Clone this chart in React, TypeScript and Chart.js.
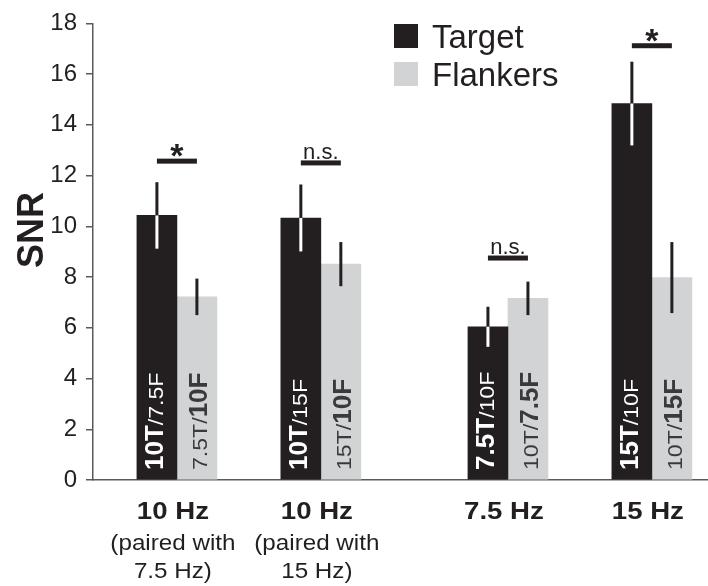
import React, { useEffect, useRef } from "react";
import { Chart, registerables } from "chart.js";

Chart.register(...registerables);

// ---------- data ----------
const seriesNames = ["Target", "Flankers"];
const groupPositions = [1, 2, 3.3, 4.3];
const groupLabels = ["10 Hz", "10 Hz", "7.5 Hz", "15 Hz"];
const groupSubLabels = [["(paired with", "7.5 Hz)"], ["(paired with", "15 Hz)"], [], []];
const targetValues = [10.43, 10.33, 6.04, 14.84];
const targetErrors = [1.31, 1.32, 0.79, 1.65];
const flankerValues = [7.22, 8.51, 7.16, 7.98];
const flankerErrors = [0.72, 0.87, 0.66, 1.4];
const targetBarLabels = ["10T/7.5F", "10T/15F", "7.5T/10F", "15T/10F"];
const flankerBarLabels = ["7.5T/10F", "15T/10F", "10T/7.5F", "10T/15F"];
const sigLabels = ["*", "n.s.", "n.s.", "*"];
const sigLevels = [12.57, 12.5, 8.75, 17.12];
const yMin = 0;
const yMax = 18;
const yStep = 2;

// ---------- styles ----------
const FONT = "'Liberation Sans', Arial, Helvetica, sans-serif";
const INK = "#231f20";
const AXIS = "#5a5a5c";
const BLACK = "#231f20";
const GRAY = "#d1d3d4";

function scaledText(ctx: CanvasRenderingContext2D, text: string, x: number, y: number, font: string, sx: number) {
  ctx.save();
  ctx.font = font;
  ctx.translate(x, y);
  ctx.scale(sx, 1);
  ctx.textAlign = "center";
  ctx.textBaseline = "alphabetic";
  ctx.fillText(text, 0, 0);
  ctx.restore();
}

function barText(
  ctx: CanvasRenderingContext2D,
  parts: { text: string; bold: boolean }[],
  x: number,
  bottom: number,
  color: string
) {
  ctx.save();
  ctx.translate(x, bottom);
  ctx.rotate(-Math.PI / 2);
  ctx.fillStyle = color;
  ctx.textAlign = "left";
  ctx.textBaseline = "alphabetic";
  let pos = 0;
  for (const p of parts) {
    const sx = p.bold ? 1 : 1.1;
    ctx.font = p.bold ? `bold 26px ${FONT}` : `21px ${FONT}`;
    ctx.save();
    ctx.translate(pos, 0);
    ctx.scale(sx, 1);
    ctx.fillText(p.text, 0, 0);
    ctx.restore();
    pos += ctx.measureText(p.text).width * sx;
  }
  ctx.restore();
}

const overlayPlugin = {
  id: "overlay",
  afterDatasetsDraw(chart: any) {
    const ctx: CanvasRenderingContext2D = chart.ctx;
    const ys = chart.scales.y;
    const xs = chart.scales.x;
    const metaT = chart.getDatasetMeta(0);
    const metaF = chart.getDatasetMeta(1);
    ctx.save();

    // in-bar labels
    targetBarLabels.forEach((lbl, i) => {
      const [a, b] = lbl.split("/");
      const bx = metaT.data[i].x;
      barText(ctx, [{ text: a, bold: true }, { text: "/" + b, bold: false }], bx + 6, ys.getPixelForValue(0) - 10, "#ffffff");
    });
    flankerBarLabels.forEach((lbl, i) => {
      const [a, b] = lbl.split("/");
      const bx = metaF.data[i].x;
      barText(ctx, [{ text: a + "/", bold: false }, { text: b, bold: true }], bx + 10, ys.getPixelForValue(0) - 10, "#3a3a3c");
    });

    // error bars
    ctx.lineWidth = 3;
    ctx.lineCap = "butt";
    targetValues.forEach((v, i) => {
      const bx = metaT.data[i].x;
      const top = ys.getPixelForValue(v + targetErrors[i]);
      const mid = ys.getPixelForValue(v);
      const bot = ys.getPixelForValue(v - targetErrors[i]);
      ctx.strokeStyle = BLACK;
      ctx.beginPath();
      ctx.moveTo(bx, top);
      ctx.lineTo(bx, mid);
      ctx.stroke();
      ctx.strokeStyle = "#ffffff";
      ctx.beginPath();
      ctx.moveTo(bx, mid);
      ctx.lineTo(bx, bot);
      ctx.stroke();
    });
    flankerValues.forEach((v, i) => {
      const bx = metaF.data[i].x;
      ctx.strokeStyle = BLACK;
      ctx.beginPath();
      ctx.moveTo(bx, ys.getPixelForValue(v + flankerErrors[i]));
      ctx.lineTo(bx, ys.getPixelForValue(v - flankerErrors[i]));
      ctx.stroke();
    });

    // significance markers
    sigLevels.forEach((lvl, i) => {
      const cx = xs.getPixelForValue(groupPositions[i]);
      const ly = ys.getPixelForValue(lvl);
      ctx.fillStyle = INK;
      ctx.fillRect(cx - 20, ly - 2.5, 40, 5);
      if (sigLabels[i] === "*") {
        scaledText(ctx, "*", cx, ly + 6, `bold 34px ${FONT}`, 1);
      } else {
        scaledText(ctx, sigLabels[i], cx, ly - 4, `22px ${FONT}`, 1);
      }
    });

    // x category labels
    groupLabels.forEach((lbl, i) => {
      const cx = xs.getPixelForValue(groupPositions[i]) - 4;
      ctx.fillStyle = INK;
      scaledText(ctx, lbl, cx, 519, `bold 24px ${FONT}`, 1.15);
      groupSubLabels[i].forEach((s, j) => {
        scaledText(ctx, s, cx, 550 + j * 28, `22px ${FONT}`, 1.1);
      });
    });

    // legend
    const legendColors = [BLACK, GRAY];
    seriesNames.forEach((name, i) => {
      const top = 24 + i * 38;
      ctx.fillStyle = legendColors[i];
      ctx.fillRect(394, top, 24, 24);
      ctx.fillStyle = INK;
      ctx.font = `33px ${FONT}`;
      ctx.textAlign = "left";
      ctx.textBaseline = "alphabetic";
      ctx.fillText(name, 432, top + 24);
    });

    // y title
    ctx.save();
    ctx.translate(43, 230);
    ctx.rotate(-Math.PI / 2);
    ctx.fillStyle = INK;
    ctx.font = `bold 36px ${FONT}`;
    ctx.textAlign = "center";
    ctx.textBaseline = "alphabetic";
    ctx.fillText("SNR", 0, 0);
    ctx.restore();

    ctx.restore();
  },
};

export default function App() {
  const ref = useRef<HTMLCanvasElement | null>(null);
  useEffect(() => {
    if (!ref.current) return;
    const chart = new Chart(ref.current, {
      type: "bar",
      data: {
        datasets: [
          {
            label: seriesNames[0],
            data: groupPositions.map((x, i) => ({ x, y: targetValues[i] })),
            backgroundColor: BLACK,
            borderWidth: 0,
            barThickness: 40,
          },
          {
            label: seriesNames[1],
            data: groupPositions.map((x, i) => ({ x, y: flankerValues[i] })),
            backgroundColor: GRAY,
            borderWidth: 0,
            barThickness: 40,
          },
        ],
      },
      options: {
        responsive: false,
        animation: false,
        layout: { padding: { top: 23, right: 0, left: 0, bottom: 0 } },
        plugins: { legend: { display: false }, tooltip: { enabled: false } },
        scales: {
          x: {
            type: "linear",
            min: 0.417,
            max: 4.69,
            offset: false,
            ticks: { display: false },
            grid: { display: false },
            border: { display: true, color: AXIS, width: 1.5 },
            afterFit: (s: any) => {
              s.height = 106;
            },
          },
          y: {
            min: yMin,
            max: yMax,
            ticks: {
              stepSize: yStep,
              color: INK,
              padding: 9,
              font: { family: FONT, size: 24 },
            },
            grid: { drawOnChartArea: false, drawTicks: true, tickLength: 7, color: AXIS, lineWidth: 1.5 },
            border: { display: true, color: AXIS, width: 1.5 },
            afterFit: (s: any) => {
              s.width = 93;
            },
          },
        },
      },
      plugins: [overlayPlugin],
    });
    return () => chart.destroy();
  }, []);
  return (
    <div style={{ position: "fixed", left: 0, top: 0, width: 708, height: 586, background: "#fff" }}>
      <canvas ref={ref} width={708} height={586} style={{ display: "block" }} />
    </div>
  );
}
